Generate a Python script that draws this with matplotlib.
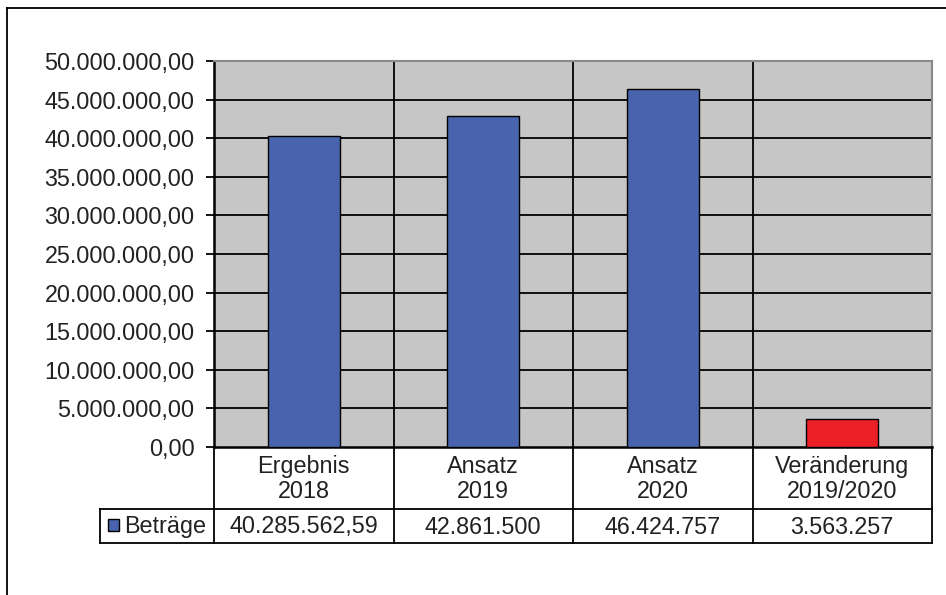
import matplotlib.pyplot as plt
from matplotlib.lines import Line2D
from matplotlib.patches import Rectangle
from matplotlib.ticker import FuncFormatter

plt.rcParams['font.family'] = ['Liberation Sans', 'DejaVu Sans']

categories = ['Ergebnis\n2018', 'Ansatz\n2019', 'Ansatz\n2020', 'Veränderung\n2019/2020']
values = [40285562.59, 42861500, 46424757, 3563257]
value_labels = ['40.285.562,59', '42.861.500', '46.424.757', '3.563.257']
series_name = 'Beträge'
bar_colors = ['#4964ae', '#4964ae', '#4964ae', '#ec2127']
y_ticks = list(range(0, 50000001, 5000000))

FS = 16.8
TXT = '#222222'


def de_format(v, pos=None):
    s = f'{v:,.2f}'
    return s.replace(',', 'X').replace('.', ',').replace('X', '.')


W, H = 946, 595
fig = plt.figure(figsize=(W / 100, H / 100), dpi=100)
fig.patch.set_facecolor('white')

left, right, top, bottom = 214, 932, 61, 447
ax = fig.add_axes([left / W, 1 - bottom / H, (right - left) / W, (bottom - top) / H])
ax.set_facecolor('#c6c6c6')

x = list(range(len(categories)))
ax.bar(x, values, width=0.4, color=bar_colors, edgecolor='black', linewidth=1.0, zorder=3)

ax.set_xlim(-0.5, len(categories) - 0.5)
ax.set_ylim(0, 50000000)
ax.set_yticks(y_ticks)
ax.yaxis.set_major_formatter(FuncFormatter(de_format))
ax.tick_params(axis='y', direction='out', length=6, width=1.3, labelsize=FS,
               labelcolor=TXT, pad=8)
ax.set_xticks([])

# gridlines
for t in y_ticks[1:-1]:
    ax.axhline(t, color='black', linewidth=1.3, zorder=1)
for b in [0.5, 1.5, 2.5]:
    ax.axvline(b, color='black', linewidth=1.3, zorder=1)

for side in ['top', 'right']:
    ax.spines[side].set_color('#8a8a8a')
    ax.spines[side].set_linewidth(1.5)
ax.spines['left'].set_linewidth(1.8)
ax.spines['bottom'].set_linewidth(1.8)


# data table below the axes, drawn in pixel coordinates
def px(xp, yp):
    return xp / W, 1 - yp / H


row1, row2, row3 = 447, 509, 543
col_edges = [214, 393.5, 573, 752.5, 932]
lw = 1.3
for ce in col_edges:
    fig.add_artist(Line2D([ce / W, ce / W], [1 - row1 / H, 1 - row3 / H], color='black', linewidth=lw))
for ry in [row2, row3]:
    fig.add_artist(Line2D([100 / W, 932 / W], [1 - ry / H, 1 - ry / H], color='black', linewidth=lw))
fig.add_artist(Line2D([100 / W, 100 / W], [1 - row2 / H, 1 - row3 / H], color='black', linewidth=lw))

for i, cat in enumerate(categories):
    cx = (col_edges[i] + col_edges[i + 1]) / 2
    fig.text(*px(cx, (row1 + row2) / 2 + 1), cat, ha='center', va='center', fontsize=FS,
             color=TXT, linespacing=1.12)
    fig.text(*px(cx, (row2 + row3) / 2 + 1), value_labels[i], ha='center', va='center',
             fontsize=FS, color=TXT)

# legend key in the table
fig.add_artist(Rectangle(px(108, 531), 11 / W, 12 / H, facecolor='#4964ae',
                         edgecolor='black', linewidth=1.0))
fig.text(*px(124, (row2 + row3) / 2 + 1), series_name, ha='left', va='center',
         fontsize=FS, color=TXT)

# chart frame
fig.add_artist(Line2D([7 / W, 7 / W], [0, 1 - 8 / H], color='black', linewidth=1.3))
fig.add_artist(Line2D([7 / W, 1], [1 - 8 / H, 1 - 8 / H], color='black', linewidth=1.3))

fig.savefig('out.png', dpi=100)
